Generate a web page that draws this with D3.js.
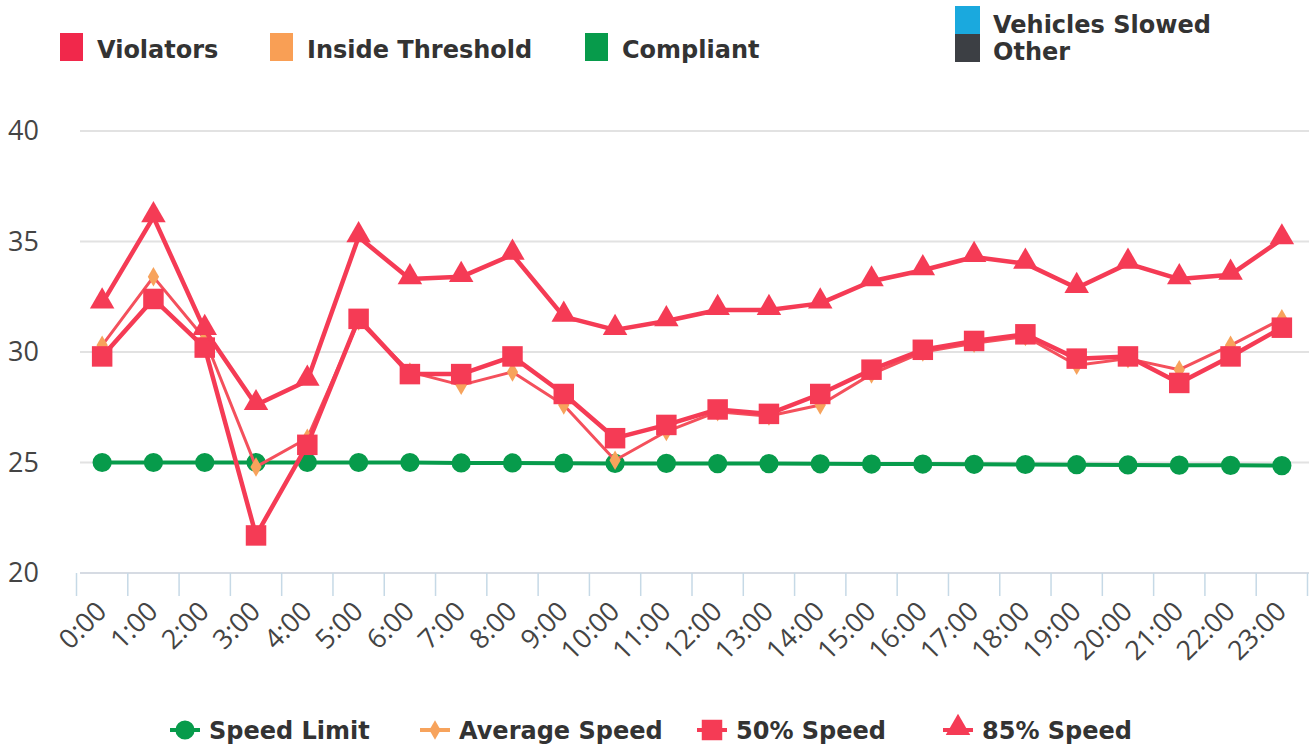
<!DOCTYPE html>
<html>
<head>
<meta charset="utf-8">
<script src="https://cdn.jsdelivr.net/npm/d3@7"></script>
<style>
  body { margin: 0; background: #fff; }
  svg { display: block; }
</style>
</head>
<body>
<div id="chart"></div>
<script>
// speed-by-hour.js

const hours = ["0:00", "1:00", "2:00", "3:00", "4:00", "5:00", "6:00", "7:00", "8:00", "9:00", "10:00", "11:00",
  "12:00", "13:00", "14:00", "15:00", "16:00", "17:00", "18:00", "19:00", "20:00", "21:00", "22:00", "23:00"];

const speedLimit = [25.0, 25.0, 25.0, 25.0, 25.0, 25.0, 25.0, 24.98, 24.98, 24.97, 24.96, 24.96,
  24.95, 24.95, 24.94, 24.93, 24.93, 24.92, 24.91, 24.9, 24.89, 24.88, 24.87, 24.86];
const averageSpeed = [30.3, 33.4, 30.6, 24.8, 26.1, 31.4, 29.1, 28.5, 29.1, 27.6, 25.1, 26.4,
  27.3, 27.1, 27.6, 29.0, 30.0, 30.4, 30.7, 29.4, 29.7, 29.2, 30.3, 31.5];
const speed50 = [29.8, 32.4, 30.2, 21.7, 25.8, 31.5, 29.0, 29.0, 29.8, 28.1, 26.1, 26.7,
  27.4, 27.2, 28.1, 29.2, 30.1, 30.5, 30.8, 29.7, 29.8, 28.6, 29.8, 31.1];
const speed85 = [32.2, 36.1, 31.0, 27.6, 28.7, 35.2, 33.3, 33.4, 34.4, 31.6, 31.0, 31.4,
  31.9, 31.9, 32.2, 33.2, 33.7, 34.3, 34.0, 32.9, 34.0, 33.3, 33.5, 35.1];

const yTicks = [20, 25, 30, 35, 40];

const topLegend = ["Violators", "Inside Threshold", "Compliant"];
const stackLegend = ["Vehicles Slowed", "Other"];
const seriesNames = ["Speed Limit", "Average Speed", "50% Speed", "85% Speed"];

const width = 1309, height = 751;
const red = "#f53b55", green = "#079b4b", orange = "#f7a35c";
const font = "'Open Sans', sans-serif";
const boldFont = "'DejaVu Sans', sans-serif";

const svg = d3.select("#chart")
  .append("svg")
  .attr("width", width)
  .attr("height", height);

const x = d3.scaleBand()
  .domain(hours)
  .range([76.5, 1307.5]);

const y = d3.scaleLinear()
  .domain([20, 40])
  .range([573, 131]);

const cx = h => x(h) + x.bandwidth() / 2;

// gridlines
svg.append("g")
  .selectAll("line")
  .data(yTicks)
  .enter()
  .append("line")
  .attr("x1", 80)
  .attr("x2", width)
  .attr("y1", d => y(d))
  .attr("y2", d => y(d))
  .style("stroke", d => d === 20 ? "#d6dbe3" : "#e2e2e2")
  .style("stroke-width", 2);

// y labels
svg.append("g")
  .selectAll("text")
  .data(yTicks)
  .enter()
  .append("text")
  .attr("x", 8)
  .attr("y", d => y(d) + 9)
  .style("font-family", font)
  .style("font-size", "27px")
  .style("fill", "#444")
  .text(d => d);

// x axis ticks + labels
svg.append("g")
  .selectAll("line")
  .data(hours.concat(["end"]))
  .enter()
  .append("line")
  .attr("x1", (d, i) => x.range()[0] + i * x.step())
  .attr("x2", (d, i) => x.range()[0] + i * x.step())
  .attr("y1", y(20))
  .attr("y2", y(20) + 23)
  .style("stroke", "#c6d9e6")
  .style("stroke-width", 1.5);

svg.append("g")
  .selectAll("text")
  .data(hours)
  .enter()
  .append("text")
  .attr("transform", d => `translate(${cx(d) + 6}, ${y(20) + 40}) rotate(-45)`)
  .style("text-anchor", "end")
  .style("font-family", font)
  .style("font-size", "27px")
  .style("fill", "#444")
  .text(d => d);

// markers
const symbolPath = {
  circle: d3.symbol().type(d3.symbolCircle).size(290),
  diamond: d3.symbol().type(d3.symbolDiamond).size(110),
  square: d3.symbol().type(d3.symbolSquare).size(420),
  triangle: d3.symbol().type(d3.symbolTriangle).size(260)
};

const series = [
  { name: seriesNames[0], values: speedLimit, color: green, line: green, width: 4, symbol: "circle" },
  { name: seriesNames[1], values: averageSpeed, color: orange, line: "#f4505c", width: 3, symbol: "diamond" },
  { name: seriesNames[2], values: speed50, color: red, line: red, width: 4.5, symbol: "square" },
  { name: seriesNames[3], values: speed85, color: red, line: red, width: 4.5, symbol: "triangle" }
];

const line = d3.line()
  .x((d, i) => cx(hours[i]))
  .y(d => y(d));

series.forEach(s => {
  const g = svg.append("g");
  g.append("path")
    .datum(s.values)
    .attr("d", line)
    .style("fill", "none")
    .style("stroke", s.line)
    .style("stroke-width", s.width)
    .style("stroke-linejoin", "round");
  g.selectAll("path.marker")
    .data(s.values)
    .enter()
    .append("path")
    .attr("class", "marker")
    .attr("d", symbolPath[s.symbol])
    .attr("transform", (d, i) => `translate(${cx(hours[i])}, ${y(d) + (s.symbol === "triangle" ? -2 : 0)})`)
    .style("fill", s.color);
});

// top legend
const topColors = ["#f1284b", "#f99f55", "#079b4b"];
const topX = [60, 270, 585];
topLegend.forEach((name, i) => {
  svg.append("rect")
    .attr("x", topX[i]).attr("y", 33)
    .attr("width", 23).attr("height", 28)
    .style("fill", topColors[i]);
  svg.append("text")
    .attr("x", topX[i] + 37).attr("y", 58)
    .style("font-family", boldFont)
    .style("font-weight", "bold")
    .style("font-size", "24px")
    .style("fill", "#333")
    .text(name);
});

const stackColors = ["#1aa9de", "#3c3f44"];
stackLegend.forEach((name, i) => {
  svg.append("rect")
    .attr("x", 955).attr("y", 6 + i * 28)
    .attr("width", 25).attr("height", 28)
    .style("fill", stackColors[i]);
  svg.append("text")
    .attr("x", 993).attr("y", 33 + i * 27)
    .style("font-family", boldFont)
    .style("font-weight", "bold")
    .style("font-size", "24px")
    .style("fill", "#333")
    .text(name);
});

// bottom legend
const legendX = [185, 435, 712, 958];
series.forEach((s, i) => {
  const g = svg.append("g").attr("transform", `translate(${legendX[i]}, 730)`);
  g.append("line")
    .attr("x1", -15).attr("x2", 15)
    .style("stroke", s.line === red ? red : s.color)
    .style("stroke-width", 4);
  g.append("path")
    .attr("d", symbolPath[s.symbol])
    .attr("transform", s.symbol === "triangle" ? "translate(0,-2)" : null)
    .style("fill", s.color);
  g.append("text")
    .attr("x", 24).attr("y", 9)
    .style("font-family", boldFont)
    .style("font-weight", "bold")
    .style("font-size", "24px")
    .style("fill", "#333")
    .text(s.name);
});
</script>
</body>
</html>
